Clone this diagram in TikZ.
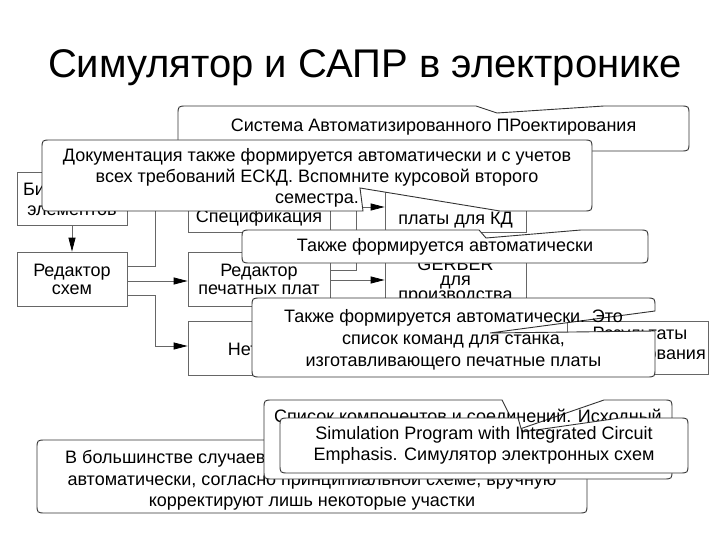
\documentclass[tikz,border=0pt]{standalone}
\usepackage{fontspec}
\setmainfont{Liberation Sans}
\usetikzlibrary{arrows.meta}
\tikzset{
 blk/.style={draw=black!60, line width=0.8pt, fill=white, inner sep=0pt},
 conn/.style={draw=black!60, line width=0.8pt},
 arr/.style={conn, -{Triangle[length=14pt,width=7pt,color=black,fill=black]}},
 co/.style={draw=black!80, line width=0.9pt, fill=white},
 txt/.style={font=\fontsize{18}{20.7}\selectfont, align=center, inner sep=0pt},
}
\newcommand{\callpath}[7]{%
 \path[co] ({#1+9},#2) #5 -- ({#3-9},#2) .. controls (#3,#2) .. (#3,{#2+9}) #6 -- (#3,{#4-9}) .. controls (#3,#4) .. ({#3-9},#4) #7 -- ({#1+9},#4) .. controls (#1,#4) .. (#1,{#4-9}) -- (#1,{#2+9}) .. controls (#1,#2) .. ({#1+9},#2) -- cycle;}
\begin{document}
\begin{tikzpicture}[x=1pt,y=-1pt]
\fill[white] (0,0) rectangle (720,540);
\useasboundingbox (0,0) rectangle (720,540);

\node[inner sep=0pt, font=\fontsize{40}{46}\selectfont] (title) at (365,68) {Симулятор и САПР в электронике};

% blocks
\node[blk, minimum width=110pt, minimum height=53pt] (lib) at (72,198.5) {};
\node[txt] (tlib) at (72,199) {Библиотека\\элементов};
\node[blk, minimum width=110pt, minimum height=54pt] (sch) at (72,279) {};
\node[txt, font=\fontsize{18}{18}\selectfont] (tsch) at (72,279) {Редактор\\схем};
\node[blk, minimum width=142pt, minimum height=54pt] (spec) at (259,205) {};
\node[txt] (tspec) at (259,218) {Спецификация};
\node[blk, minimum width=142pt, minimum height=54pt] (pcb) at (259,279) {};
\node[txt, font=\fontsize{18}{18}\selectfont] (tpcb) at (259,279) {Редактор\\печатных плат};
\node[blk, minimum width=142pt, minimum height=54pt] (net) at (259,348) {};
\node[txt] (tnet) at (262,349) {Нетлист};
\node[blk, minimum width=141pt, minimum height=54pt] (kd) at (455.5,205) {};
\node[txt] (tkd) at (455.5,220) {платы для КД};
\node[blk, minimum width=141pt, minimum height=54pt] (ger) at (455.5,281) {};
\node[txt, font=\fontsize{18}{15}\selectfont] (tger) at (455.5,281) {GERBER\\для\\производства};
\node[blk, minimum width=141pt, minimum height=53pt] (res) at (637.5,347.5) {};
\node[txt, font=\fontsize{18}{20}\selectfont] (tres) at (640,345) {Результаты\\моделирования};

% connectors
\draw[arr] (lib.south) -- (sch.north);
\draw[conn] (sch.east |- 0,266) -- (155,266) -- (155,190);
\draw[arr] (155,190) -- (spec.west |- 0,190);
\draw[arr] (sch.east |- 0,281) -- (pcb.west |- 0,281);
\draw[arr] (sch.east |- 0,295) -- (155,295) -- (155,346) -- (net.west |- 0,346);
\draw[conn] (pcb.east |- 0,270) -- (356,270) -- (356,207);
\draw[arr] (356,207) -- (kd.west |- 0,207);
\draw[arr] (pcb.east |- 0,280) -- (ger.west |- 0,280);

% callout 1
\callpath{178}{106}{689}{151}{-- (476,106) -- (497,113) -- (604,106)}{}{}
\node[txt] (c1) at (433.5,127) {Система Автоматизированного ПРоектирования};
% callout 2
\callpath{42}{140}{592}{211}{}{}{-- (500,211) -- (360,188) -- (363,211)}
\node[txt] (c2) at (317,178) {Документация также формируется автоматически и с учетов\\всех требований ЕСКД. Вспомните курсовой второго\\семестра.};
% callout 3
\callpath{242}{230}{648}{263}{-- (479,230) -- (486,238) -- (581,230)}{}{}
\node[txt] (c3) at (445,247) {Также формируется автоматически};
% callout 4
\callpath{252}{298}{655}{377}{}{-- (655,311) -- (490,333) -- (655,331)}{}
\node[txt, font=\fontsize{18}{22}\selectfont] (c4) at (453.5,339.5) {Также формируется автоматически. Это\\список команд для станка,\\изготавливающего печатные платы};
% callout 7
\callpath{37}{440}{587}{513}{}{}{}
\node[txt, anchor=west] (c7a) at (65,459) {В большинстве случаев};
\node[txt, font=\fontsize{18}{21.5}\selectfont] (c7b) at (312,491) {автоматически, согласно принципиальной схеме, вручную\\корректируют лишь некоторые участки};
% callout 5
\callpath{264}{400}{672}{479}{-- (502,400) -- (517,430) -- (604,400)}{}{}
\node[txt] (c5) at (468,418) {Список компонентов и соединений. Исходный};
% callout 6
\callpath{280}{418}{688}{473}{-- (518,418) -- (522,432) -- (620,418)}{}{}
\node[txt] (c6) at (484,445) {Simulation Program with Integrated Circuit\\Emphasis. Симулятор электронных схем};
\end{tikzpicture}
\end{document}
